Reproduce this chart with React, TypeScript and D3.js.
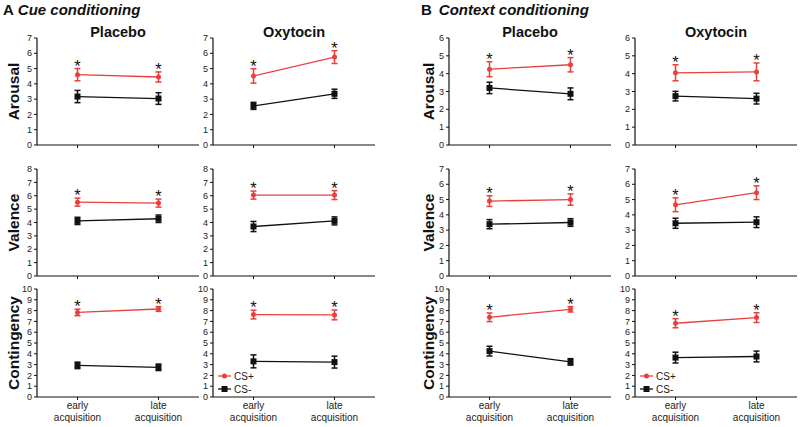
import React from "react";
import * as d3 from "d3";

// Categories
const timepoints = ["early acquisition", "late acquisition"];
const measures = ["Arousal", "Valence", "Contingency"];
const conditions = ["Placebo", "Oxytocin"];
const cueYMax = [7, 8, 10];
const ctxYMax = [6, 7, 10];

// Cue conditioning — rows: Arousal, Valence, Contingency; columns: [early, late]
const cuePlaceboPlus = [[4.6, 4.45], [5.52, 5.45], [7.83, 8.15]];
const cuePlaceboPlusErr = [[0.4, 0.33], [0.3, 0.3], [0.3, 0.22]];
const cuePlaceboMinus = [[3.17, 3.04], [4.12, 4.28], [2.93, 2.75]];
const cuePlaceboMinusErr = [[0.4, 0.38], [0.27, 0.28], [0.3, 0.3]];
const cueOxytocinPlus = [[4.52, 5.75], [6.05, 6.05], [7.63, 7.6]];
const cueOxytocinPlusErr = [[0.47, 0.42], [0.3, 0.33], [0.4, 0.45]];
const cueOxytocinMinus = [[2.56, 3.35], [3.7, 4.12], [3.3, 3.23]];
const cueOxytocinMinusErr = [[0.23, 0.3], [0.38, 0.3], [0.6, 0.55]];

// Context conditioning
const ctxPlaceboPlus = [[4.25, 4.5], [4.9, 5.0], [7.38, 8.12]];
const ctxPlaceboPlusErr = [[0.42, 0.4], [0.35, 0.37], [0.4, 0.25]];
const ctxPlaceboMinus = [[3.2, 2.87], [3.39, 3.5], [4.25, 3.25]];
const ctxPlaceboMinusErr = [[0.32, 0.33], [0.3, 0.25], [0.45, 0.3]];
const ctxOxytocinPlus = [[4.05, 4.1], [4.66, 5.45], [6.83, 7.35]];
const ctxOxytocinPlusErr = [[0.45, 0.5], [0.45, 0.45], [0.42, 0.45]];
const ctxOxytocinMinus = [[2.74, 2.6], [3.45, 3.52], [3.65, 3.75]];
const ctxOxytocinMinusErr = [[0.27, 0.3], [0.33, 0.35], [0.5, 0.5]];

const legendLabels = ["CS+", "CS-"];

const RED = "#e8403f";
const FONT = "'Liberation Sans', Arial, Helvetica, sans-serif";

const rowTops = [38, 169, 289];
const rowBottoms = [145, 276, 397];
const PANEL_W = 162;

type PanelProps = {
  x0: number;
  row: number;
  yMax: number;
  plus: number[];
  plusErr: number[];
  minus: number[];
  minusErr: number[];
  showXLabels: boolean;
  showLegend: boolean;
};

function Panel(p: PanelProps) {
  const top = rowTops[p.row];
  const bottom = rowBottoms[p.row];
  const x = d3.scalePoint<string>().domain(timepoints).range([p.x0, p.x0 + PANEL_W]).padding(0.5);
  const y = d3.scaleLinear().domain([0, p.yMax]).range([bottom, top]);
  const ticks = d3.range(0, p.yMax + 1);
  const line = d3
    .line<number>()
    .x((_, i) => x(timepoints[i]) as number)
    .y((d) => y(d));

  const errBar = (v: number, e: number, i: number, color: string, key: string) => {
    const cx = x(timepoints[i]) as number;
    return (
      <g key={key} stroke={color} strokeWidth={1.5}>
        <line x1={cx} x2={cx} y1={y(v - e)} y2={y(v + e)} />
        <line x1={cx - 3} x2={cx + 3} y1={y(v - e)} y2={y(v - e)} />
        <line x1={cx - 3} x2={cx + 3} y1={y(v + e)} y2={y(v + e)} />
      </g>
    );
  };

  return (
    <g>
      {/* axes */}
      <line x1={p.x0} x2={p.x0} y1={top} y2={bottom} stroke="#111" strokeWidth={1.2} />
      <line x1={p.x0} x2={p.x0 + PANEL_W} y1={bottom} y2={bottom} stroke="#111" strokeWidth={1.2} />
      {ticks.map((t) => (
        <g key={"yt" + t}>
          <line x1={p.x0 - 3} x2={p.x0} y1={y(t)} y2={y(t)} stroke="#111" strokeWidth={1} />
          <text x={p.x0 - 5} y={y(t)} dy="0.35em" textAnchor="end" fontSize={9} fill="#222" fontFamily={FONT}>
            {t}
          </text>
        </g>
      ))}
      {timepoints.map((tp) => (
        <line key={"xt" + tp} x1={x(tp)} x2={x(tp)} y1={bottom} y2={bottom + 3} stroke="#111" strokeWidth={1} />
      ))}
      {p.showXLabels &&
        timepoints.map((tp) => {
          const parts = tp.split(" ");
          return (
            <text key={"xl" + tp} x={x(tp)} textAnchor="middle" fontSize={10} fill="#222" fontFamily={FONT}>
              <tspan x={x(tp)} y={bottom + 12}>{parts[0]}</tspan>
              <tspan x={x(tp)} y={bottom + 24}>{parts[1]}</tspan>
            </text>
          );
        })}
      {/* CS- series */}
      <path d={line(p.minus) || ""} fill="none" stroke="#111" strokeWidth={1.3} />
      {p.minus.map((v, i) => errBar(v, p.minusErr[i], i, "#111", "me" + i))}
      {p.minus.map((v, i) => (
        <rect key={"mm" + i} x={(x(timepoints[i]) as number) - 3} y={y(v) - 3} width={6} height={6} fill="#111" />
      ))}
      {/* CS+ series */}
      <path d={line(p.plus) || ""} fill="none" stroke={RED} strokeWidth={1.3} />
      {p.plus.map((v, i) => errBar(v, p.plusErr[i], i, RED, "pe" + i))}
      {p.plus.map((v, i) => (
        <circle key={"pm" + i} cx={x(timepoints[i])} cy={y(v)} r={2.5} fill={RED} />
      ))}
      {p.plus.map((v, i) => (
        <text
          key={"ast" + i}
          x={x(timepoints[i])}
          y={y(v + p.plusErr[i]) + 3}
          textAnchor="middle"
          fontSize={16.5}
          fill="#111"
          fontFamily={FONT}
        >
          *
        </text>
      ))}
      {p.showLegend && (
        <g fontFamily={FONT} fontSize={10} fill="#222">
          <line x1={p.x0 + 5} x2={p.x0 + 18} y1={bottom - 21} y2={bottom - 21} stroke={RED} strokeWidth={1.3} />
          <circle cx={p.x0 + 11.5} cy={bottom - 21} r={2.5} fill={RED} />
          <text x={p.x0 + 21} y={bottom - 21} dy="0.35em">{legendLabels[0]}</text>
          <line x1={p.x0 + 5} x2={p.x0 + 18} y1={bottom - 8} y2={bottom - 8} stroke="#111" strokeWidth={1.3} />
          <rect x={p.x0 + 11.5 - 3} y={bottom - 8 - 3} width={6} height={6} fill="#111" />
          <text x={p.x0 + 21} y={bottom - 8} dy="0.35em">{legendLabels[1]}</text>
        </g>
      )}
    </g>
  );
}

type Block = {
  letter: string;
  title: string;
  titleX: number;
  labelX: number;
  panelX: number[];
  yMax: number[];
  series: number[][][][]; // [condition][plus, plusErr, minus, minusErr][row][tp]
};

const blocks: Block[] = [
  {
    letter: "A",
    title: "Cue conditioning",
    titleX: 3,
    labelX: 19,
    panelX: [37, 213],
    yMax: cueYMax,
    series: [
      [cuePlaceboPlus, cuePlaceboPlusErr, cuePlaceboMinus, cuePlaceboMinusErr],
      [cueOxytocinPlus, cueOxytocinPlusErr, cueOxytocinMinus, cueOxytocinMinusErr],
    ],
  },
  {
    letter: "B",
    title: "Context conditioning",
    titleX: 421,
    labelX: 434,
    panelX: [449, 635],
    yMax: ctxYMax,
    series: [
      [ctxPlaceboPlus, ctxPlaceboPlusErr, ctxPlaceboMinus, ctxPlaceboMinusErr],
      [ctxOxytocinPlus, ctxOxytocinPlusErr, ctxOxytocinMinus, ctxOxytocinMinusErr],
    ],
  },
];

export default function App() {
  return (
    <svg
      width={800}
      height={427}
      viewBox="0 0 800 427"
      style={{ position: "absolute", left: 0, top: 0, background: "#fff" }}
    >
      <rect width={800} height={427} fill="#fff" />
      {blocks.map((b) => (
        <g key={b.letter}>
          <text x={b.titleX} y={15} fontFamily={FONT} fontSize={15} fontWeight="bold" fill="#111">
            {b.letter}
            <tspan dx={b.letter === "A" ? 4 : 7} fontStyle="italic">{b.title}</tspan>
          </text>
          {conditions.map((c, ci) => (
            <text
              key={c}
              x={b.panelX[ci] + PANEL_W / 2}
              y={37}
              textAnchor="middle"
              fontFamily={FONT}
              fontSize={14.5}
              fontWeight="bold"
              fill="#111"
            >
              {c}
            </text>
          ))}
          {measures.map((m, ri) => (
            <text
              key={m}
              transform={`translate(${b.labelX},${(rowTops[ri] + rowBottoms[ri]) / 2}) rotate(-90)`}
              textAnchor="middle"
              fontFamily={FONT}
              fontSize={15.5}
              fontWeight="bold"
              fill="#111"
            >
              {m}
            </text>
          ))}
          {conditions.map((c, ci) =>
            measures.map((m, ri) => (
              <Panel
                key={c + m}
                x0={b.panelX[ci]}
                row={ri}
                yMax={b.yMax[ri]}
                plus={b.series[ci][0][ri]}
                plusErr={b.series[ci][1][ri]}
                minus={b.series[ci][2][ri]}
                minusErr={b.series[ci][3][ri]}
                showXLabels={ri === 2}
                showLegend={ri === 2 && ci === 1}
              />
            ))
          )}
        </g>
      ))}
    </svg>
  );
}
